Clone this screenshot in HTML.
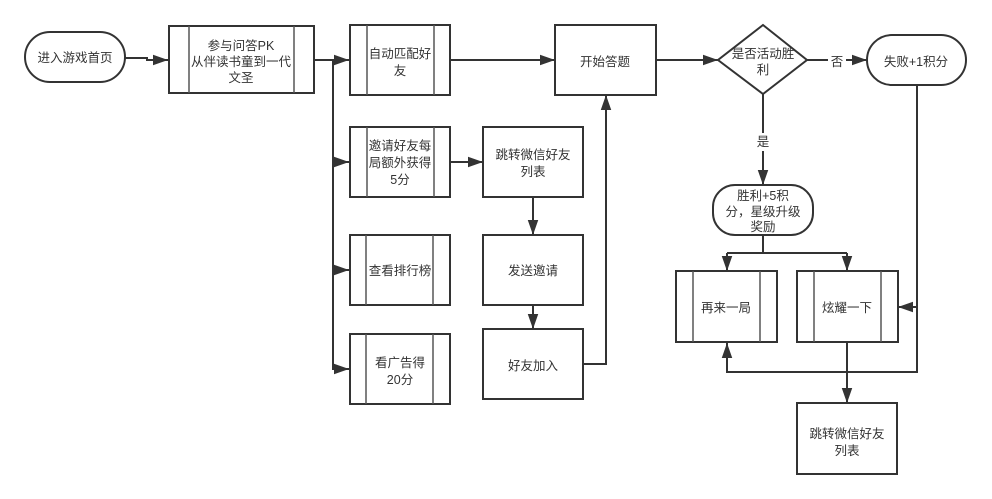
<!DOCTYPE html>
<html><head><meta charset="utf-8"><style>
body{margin:0;background:#fff}
svg{display:block}
text{font-family:"Liberation Sans","Noto Sans CJK SC",sans-serif;font-size:12.5px;fill:#333;text-anchor:middle;dominant-baseline:central}
.b{fill:#fff;stroke:#333;stroke-width:2}
.l{fill:none;stroke:#333;stroke-width:2}
.i{stroke:#555;stroke-width:1.5}
</style></head><body>
<svg width="992" height="499" viewBox="0 0 992 499">
<defs>
<marker id="A" viewBox="0 0 10 10" refX="10" refY="5" markerWidth="15" markerHeight="15" markerUnits="userSpaceOnUse" orient="auto"><path d="M0,1.5L10,5L0,8.5z" fill="#333"/></marker></defs>

<path class="l" d="M125,58H147V60H168" marker-end="url(#A)"/>
<path class="l" d="M314,60H349" marker-end="url(#A)"/>
<path class="l" d="M333,60V369H349" marker-end="url(#A)"/>
<path class="l" d="M333,162H349" marker-end="url(#A)"/>
<path class="l" d="M333,270H349" marker-end="url(#A)"/>
<path class="l" d="M450,162H483" marker-end="url(#A)"/>
<path class="l" d="M450,60H555" marker-end="url(#A)"/>
<path class="l" d="M533,197V235" marker-end="url(#A)"/>
<path class="l" d="M533,305V329" marker-end="url(#A)"/>
<path class="l" d="M583,364H606V95" marker-end="url(#A)"/>
<path class="l" d="M656,60H718" marker-end="url(#A)"/>
<path class="l" d="M807,60H867" marker-end="url(#A)"/>
<path class="l" d="M763,94V185" marker-end="url(#A)"/>
<path class="l" d="M763,235V253"/>
<path class="l" d="M727,253H847" />
<path class="l" d="M727,253V271" marker-end="url(#A)"/>
<path class="l" d="M847,253V271" marker-end="url(#A)"/>
<path class="l" d="M917,85V372H727V343" marker-end="url(#A)"/>
<path class="l" d="M917,307H898" marker-end="url(#A)"/>
<path class="l" d="M847,343V403" marker-end="url(#A)"/>

<rect x="828" y="54" width="18" height="16" fill="#fff"/>
<text x="837" y="62">否</text>
<rect x="754" y="133" width="18" height="18" fill="#fff"/>
<text x="763" y="142">是</text>

<rect class="b" x="25" y="32" width="100" height="50" rx="25"/>
<text x="75" y="58">进入游戏首页</text>

<rect class="b" x="169" y="26" width="145" height="67"/>
<line class="i" x1="189" y1="26" x2="189" y2="93"/><line class="i" x1="294" y1="26" x2="294" y2="93"/>
<text x="241" y="46">参与问答PK</text><text x="241" y="62">从伴读书童到一代</text><text x="241" y="78">文圣</text>

<rect class="b" x="350" y="25" width="100" height="70"/>
<line class="i" x1="367" y1="25" x2="367" y2="95"/><line class="i" x1="434" y1="25" x2="434" y2="95"/>
<text x="400" y="54">自动匹配好</text><text x="400" y="71">友</text>

<rect class="b" x="350" y="127" width="100" height="70"/>
<line class="i" x1="367" y1="127" x2="367" y2="197"/><line class="i" x1="434" y1="127" x2="434" y2="197"/>
<text x="400" y="146">邀请好友每</text><text x="400" y="163">局额外获得</text><text x="400" y="180">5分</text>

<rect class="b" x="350" y="235" width="100" height="70"/>
<line class="i" x1="366" y1="235" x2="366" y2="305"/><line class="i" x1="433" y1="235" x2="433" y2="305"/>
<text x="400" y="271">查看排行榜</text>

<rect class="b" x="350" y="334" width="100" height="70"/>
<line class="i" x1="366" y1="334" x2="366" y2="404"/><line class="i" x1="433" y1="334" x2="433" y2="404"/>
<text x="400" y="363">看广告得</text><text x="400" y="380">20分</text>

<rect class="b" x="483" y="127" width="100" height="70"/>
<text x="533" y="155">跳转微信好友</text><text x="533" y="172">列表</text>
<rect class="b" x="483" y="235" width="100" height="70"/>
<text x="533" y="271">发送邀请</text>
<rect class="b" x="483" y="329" width="100" height="70"/>
<text x="533" y="366">好友加入</text>

<rect class="b" x="555" y="25" width="101" height="70"/>
<text x="605" y="62">开始答题</text>

<path class="b" d="M763,25L807,60L763,94L718,60z"/>
<text x="763" y="54">是否活动胜</text><text x="763" y="70">利</text>

<rect class="b" x="867" y="35" width="99" height="50" rx="25"/>
<text x="916" y="62">失败+1积分</text>

<rect class="b" x="713" y="185" width="100" height="50" rx="22"/>
<text x="763" y="196">胜利+5积</text><text x="763" y="212">分，星级升级</text><text x="763" y="227">奖励</text>

<rect class="b" x="676" y="271" width="101" height="71"/>
<line class="i" x1="693" y1="271" x2="693" y2="342"/><line class="i" x1="760" y1="271" x2="760" y2="342"/>
<text x="726" y="308">再来一局</text>

<rect class="b" x="797" y="271" width="101" height="71"/>
<line class="i" x1="814" y1="271" x2="814" y2="342"/><line class="i" x1="881" y1="271" x2="881" y2="342"/>
<text x="847" y="308">炫耀一下</text>

<rect class="b" x="797" y="403" width="100" height="71"/>
<text x="847" y="434">跳转微信好友</text><text x="847" y="451">列表</text>
</svg>
</body></html>
